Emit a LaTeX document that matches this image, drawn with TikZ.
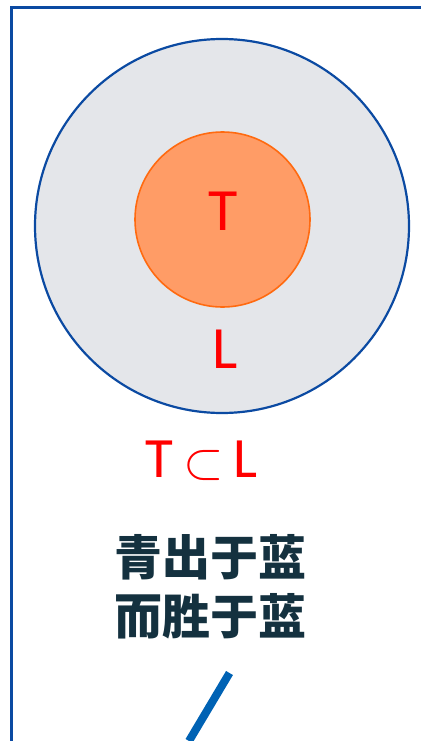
\documentclass[tikz,border=0pt]{standalone}
\usepackage{fontspec}
\setmainfont{Carlito}
\newfontfamily\cjk{Noto Sans CJK SC}
\definecolor{frameblue}{HTML}{0B4AA2}
\definecolor{ringgrey}{HTML}{E4E6EA}
\definecolor{coreorange}{HTML}{FF9C66}
\definecolor{coreedge}{HTML}{FF6A10}
\definecolor{slogan}{HTML}{14313F}
\definecolor{stickblue}{HTML}{0062B4}
\tikzset{
  setlabel/.style={text=red, font=\fontsize{60}{60}\selectfont, inner sep=0pt},
  rellabel/.style={text=red, font=\fontsize{57}{57}\selectfont, inner sep=0pt, anchor=base west},
  cjkline/.style={text=slogan, font=\cjk\bfseries\fontsize{48}{48}\selectfont, inner sep=0pt}
}
\begin{document}
\begin{tikzpicture}[x=1pt,y=-1pt]
\useasboundingbox (0,0) rectangle (421,741);
\draw[frameblue, line width=3pt] (11.5,741)--(11.5,7.5)--(421,7.5);

\node[circle, draw=frameblue, line width=2.2pt, fill=ringgrey,
      minimum size=374pt, inner sep=0pt] (L) at (222,226) {};
\node[circle, draw=coreedge, line width=1.6pt, fill=coreorange,
      minimum size=175pt, inner sep=0pt] (T) at (222.5,219.5) {};

\node[setlabel] (tlab) at (223,211.5) {T};
\node[setlabel] (llab) at (225.5,349) {L};

% T subset L
\node[rellabel] (relT) at (145,477) {T};
\node[text=red, inner sep=0pt] (relsub) at (203.5,465)
  {\scalebox{5.2}{$\subset$}};
\node[rellabel] (relL) at (233,477) {L};

\node[cjkline] (top) at (210,557) {青出于蓝};
\node[cjkline] (bot) at (210,616) {而胜于蓝};

\coordinate (s1) at (229.5,673);
\coordinate (s2) at (189,741);
\draw[stickblue, line width=8pt] (s1)--(s2);
\end{tikzpicture}
\end{document}
